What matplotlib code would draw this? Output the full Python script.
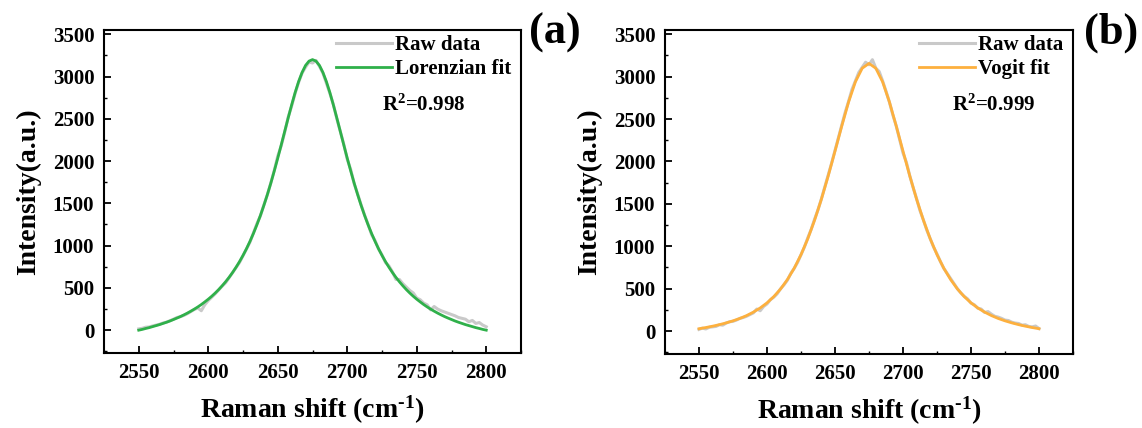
import numpy as np
import matplotlib
matplotlib.use("Agg")
import matplotlib.pyplot as plt
from matplotlib.ticker import MultipleLocator

plt.rcParams['font.family'] = ['Liberation Serif', 'DejaVu Serif']
plt.rcParams['font.weight'] = 'bold'
plt.rcParams['mathtext.fontset'] = 'custom'
plt.rcParams['mathtext.rm'] = 'Liberation Serif:bold'
plt.rcParams['mathtext.it'] = 'Liberation Serif:bold'
plt.rcParams['mathtext.bf'] = 'Liberation Serif:bold'

# ---------------- data ----------------
raman_shift = np.arange(2550, 2800.01, 2.5)   # cm^-1 grid, 101 points

raw_a = [15, 22, 35, 38, 50, 60, 70, 85, 95, 112,
         130, 150, 160, 175, 195, 220, 245, 262, 230, 300,
         350, 390, 430, 475, 520, 560, 620, 680, 740, 800,
         880, 960, 1040, 1150, 1260, 1350, 1480, 1600, 1740, 1890,
         2060, 2180, 2340, 2520, 2650, 2800, 2930, 3040, 3110, 3170,
         3160,
         3190, 3120, 3040, 2920, 2800, 2670, 2500, 2350, 2200, 2020,
         1900, 1730, 1610, 1480, 1360, 1250, 1130, 1060, 960, 890,
         800, 760, 690, 600, 600, 550, 510, 470, 440, 380,
         360, 320, 300, 240, 280, 250, 230, 215, 200, 185,
         170, 150, 140, 130, 100, 115, 80, 90, 60, 40]

fit_a_left = [0, 9, 20, 30, 42, 54, 66, 80, 94, 109,
              126, 143, 161, 181, 202, 225, 249, 275, 303, 334,
              366, 401, 439, 480, 525, 573, 625, 682, 744, 811,
              884, 963, 1050, 1144, 1246, 1356, 1475, 1602, 1738, 1883,
              2034, 2191, 2351, 2510, 2664, 2810, 2940, 3048, 3131, 3182]
fit_a_peak = 3200
fit_a = fit_a_left + [fit_a_peak] + fit_a_left[::-1]

raw_b = [20, 35, 25, 45, 50, 55, 75, 70, 95, 110,
         115, 130, 150, 160, 175, 195, 215, 260, 240, 290,
         320, 370, 400, 440, 500, 545, 600, 680, 740, 810,
         900, 990, 1100, 1200, 1320, 1430, 1560, 1700, 1840, 1980,
         2130, 2280, 2430, 2580, 2710, 2850, 2950, 3050, 3110, 3170,
         3140,
         3200, 3100, 3060, 2950, 2830, 2700, 2550, 2420, 2260, 2100,
         1990, 1830, 1690, 1560, 1420, 1310, 1190, 1090, 990, 910,
         820, 740, 680, 620, 560, 500, 450, 410, 380, 330,
         310, 270, 260, 220, 230, 200, 175, 165, 150, 130,
         125, 105, 95, 90, 70, 75, 55, 50, 60, 30]

fit_b_x = np.arange(2550, 2800.01, 5)
fit_b_left = [28, 42, 58, 76, 97, 121, 149, 183, 224, 273,
              333, 407, 497, 608, 741, 901, 1089, 1308, 1555, 1829,
              2122, 2419, 2702, 2939, 3099]
fit_b_peak = 3156
fit_b = fit_b_left + [fit_b_peak] + fit_b_left[::-1]

xticks = [2550, 2600, 2650, 2700, 2750, 2800]
yticks = [0, 500, 1000, 1500, 2000, 2500, 3000, 3500]

# ---------------- figure ----------------
W, H = 1142, 428
fig = plt.figure(figsize=(W / 100, H / 100), dpi=100)

def box(l, r, t, b):
    return [l / W, 1 - b / H, (r - l) / W, (b - t) / H]

ax_a = fig.add_axes(box(104, 521, 30, 353))
ax_b = fig.add_axes(box(665, 1073, 30, 354))

GRAY = '#c9c9c9'
GREEN = '#2fb04a'
ORANGE = '#fdb03e'

panels = [
    (ax_a, raw_a, raman_shift, fit_a, GREEN, 'Lorenzian fit', 'R$^2$=0.998', 0.767, '(a)', 555),
    (ax_b, raw_b, fit_b_x, fit_b, ORANGE, 'Vogit fit', 'R$^2$=0.999', 0.806, '(b)', 1111),
]

for ax, raw, fx, fy, col, flab, r2, r2x, plab, plx in panels:
    ax.plot(raman_shift, raw, color=GRAY, lw=2.2, label='Raw data', zorder=2)
    ax.plot(fx, fy, color=col, lw=2.0, label=flab, zorder=3)
    ax.set_xlim(2525, 2825)
    ax.set_ylim(-270, 3550)
    ax.set_xticks(xticks)
    ax.set_yticks(yticks)
    ax.xaxis.set_minor_locator(MultipleLocator(25))
    ax.yaxis.set_minor_locator(MultipleLocator(250))
    ax.tick_params(which='major', direction='in', length=5, width=1.3,
                   labelsize=15, pad=7, top=False, right=False)
    ax.tick_params(which='minor', direction='in', length=2.5, width=1.0,
                   top=False, right=False)
    for lab in ax.get_xticklabels() + ax.get_yticklabels():
        lab.set_fontweight('bold')
    for sp in ax.spines.values():
        sp.set_linewidth(1.5)
    ax.set_xlabel(r'Raman shift (cm$^{\text{-1}}$)', fontsize=20, fontweight='bold', labelpad=8)
    ax.set_ylabel('Intensity(a.u.)', fontsize=20, fontweight='bold', labelpad=8)
    leg = ax.legend(loc='upper right', bbox_to_anchor=(0.99, 1.0), frameon=False,
                    fontsize=15, handlelength=2.7, handletextpad=0.15,
                    labelspacing=0.2, borderpad=0.25, borderaxespad=0.0)
    for t in leg.get_texts():
        t.set_fontweight('bold')
    ax.text(r2x, 0.768, r2, transform=ax.transAxes, fontsize=15,
            fontweight='bold', ha='center', va='center')
    fig.text(plx / W, 1 - 33 / H, plab, fontsize=32, fontweight='bold',
             ha='center', va='center')

fig.savefig('out.png', dpi=100)
